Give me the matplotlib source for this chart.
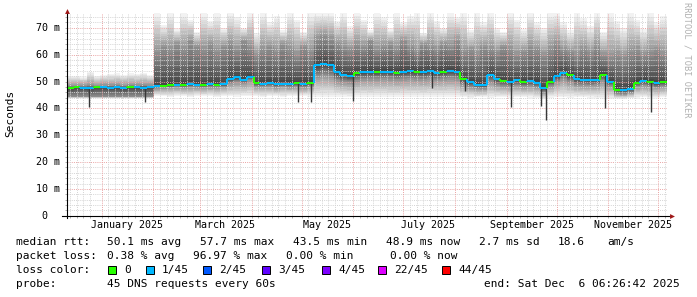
import datetime
import matplotlib
matplotlib.use('Agg')
import matplotlib.pyplot as plt
from matplotlib.collections import LineCollection
from matplotlib.patches import Rectangle
import numpy as np

W, H = 697, 297
start = datetime.datetime(2024, 12, 11, 6, 26, 42)   # 360 days before end
step_days = 4

# median rtt per 4-day step (ms)
median = [47.6, 47.8, 47.7, 47.5, 47.8, 47.9, 47.7, 47.8, 47.6, 47.9, 47.8, 47.7, 47.9,
          48.3, 48.5, 48.6, 48.8, 48.7, 48.9, 48.8, 48.7, 48.9, 48.8, 48.9,
          50.8, 51.5, 50.6, 51.8,
          49.3, 49.2, 49.4, 49.0, 49.2, 49.1, 49.3, 49.0, 49.5,
          56.0, 56.6, 56.2, 53.5,
          52.3, 52.0, 53.0, 53.4, 53.6, 53.5, 53.7, 53.5, 53.3, 53.6, 53.8, 53.5, 53.4, 53.9,
          53.2, 53.6, 54.0, 53.5,
          51.0, 49.8, 48.8, 48.6, 52.5,
          50.8, 50.2, 50.0, 50.4, 49.8, 50.1, 49.6, 47.5, 50.0,
          52.0, 53.2, 52.3, 50.8, 50.6, 50.5, 50.7, 52.5, 50.0,
          47.0, 46.8, 47.3, 49.6, 50.2, 49.8, 49.3, 49.8]

# smoke: lowest ping, lower quartile, upper quartile, highest ping (ms)
smoke_min = [43.8] * 13 + \
            [44.6, 44.5, 44.4, 44.6, 44.5, 44.4, 44.6, 44.5, 44.5, 44.4, 44.6, 44.5,
             44.4, 44.6, 44.5, 44.5, 44.4, 44.6, 44.5, 44.4, 44.5, 44.6, 44.5, 44.4] + \
            [44.3, 44.2, 44.4, 44.3] + \
            [44.3, 44.2, 44.4, 44.3, 44.2, 44.4, 44.3, 44.2, 44.3, 44.4, 44.2, 44.3,
             44.3, 44.2, 44.4, 44.3, 44.2, 44.3] + \
            [44.2, 44.0, 44.1, 44.2, 44.0, 44.2, 44.1, 44.0, 44.2, 44.1, 44.0, 43.8,
             43.5, 44.0, 44.2, 44.1, 44.0, 44.2, 44.1, 44.0, 43.8, 43.6, 43.5, 43.5,
             43.6, 43.8, 44.0, 44.1, 43.8, 44.0, 44.1]
smoke_q1 = [44.3] * 13 + \
           [47.5, 47.7, 47.8, 48.0, 47.9, 48.1, 48.0, 47.9, 48.1, 48.0, 48.1, 49.5,
            50.0, 49.5, 50.5, 48.3, 48.2, 48.4, 48.0, 48.2, 48.1, 48.3, 48.0, 48.4] + \
           [52.0, 52.5, 52.0, 50.5] + \
           [50.0, 49.8, 50.5, 51.0, 51.0, 51.0, 51.2, 51.0, 50.8, 51.0, 51.2, 51.0,
            50.8, 51.3, 50.7, 51.0, 51.4, 51.0] + \
           [49.0, 48.0, 47.5, 47.3, 50.0, 48.8, 48.5, 48.3, 48.6, 48.2, 48.4, 48.0,
            46.0, 48.5, 50.0, 51.0, 50.0, 48.8, 48.8, 48.7, 48.9, 50.5, 48.5, 45.5,
            45.3, 45.8, 48.2, 48.6, 48.3, 47.8, 48.3]
smoke_q3 = [48.3, 48.4, 48.3, 48.6, 48.4, 48.5, 48.5, 48.6, 48.4, 48.6, 48.5, 48.6, 48.5,
            61, 63, 62, 64, 62, 65, 63, 62, 64, 61, 63, 64,
            62, 65, 63, 60, 62, 63, 61, 64, 62, 60, 63, 61,
            66, 67, 66, 64,
            63, 62, 64, 63, 65, 62, 63, 64, 62, 65, 63, 61, 64, 63, 62, 64, 63, 65,
            61, 62, 60, 63, 62, 61, 63, 62, 60, 61, 63, 62, 60, 62, 64, 62,
            61, 60, 62, 61, 63, 60, 59, 60, 59, 61, 62, 60, 61, 62, 60]
smoke_max = [52.0, 52.2, 51.8, 53.5, 52.0, 52.5, 52.8, 53.0, 52.6, 53.0, 52.8, 53.2, 52.5,
             75.4, 71.0, 75.4, 69.5, 75.4, 73.0, 68.5, 75.4, 72.5, 75.4, 70.0,
             75.4, 74.0, 70.0, 75.4, 68.0, 75.4, 72.0, 74.5, 69.0, 75.4, 73.0, 68.5, 75.4,
             75.4, 75.4, 75.4, 72.5,
             75.4, 70.5, 75.4, 73.0, 69.0, 75.4, 74.0, 69.5, 75.4, 72.0, 74.5, 75.4,
             68.0, 75.4, 72.5, 70.0, 75.4, 74.0,
             75.4, 69.0, 75.4, 72.0, 75.4, 70.0, 68.5, 75.4, 73.0, 69.5, 75.4, 72.0,
             70.0, 75.4,
             75.4, 72.0, 69.0, 75.4, 73.5, 70.5, 75.4, 68.5, 75.4, 72.5, 70.0, 75.4,
             73.0, 69.5, 75.4, 72.0, 74.5]
# index into loss_colors for each step
loss = [0, 0, 1, 1, 0, 1, 1, 1, 1, 0, 1, 1, 1,
        1, 0, 0, 1, 0, 1, 1, 0, 1, 0, 1,
        1, 1, 1, 1, 0, 1, 1, 1, 1, 1, 0, 1, 0,
        1, 1, 1, 1,
        1, 1, 0, 1, 1, 0, 1, 1, 0, 1, 1, 0, 1, 1, 1, 0, 1, 1,
        0, 1, 1, 1, 1, 1, 0, 1, 1, 0, 1, 1, 1, 0, 1, 1,
        0, 1, 1, 1, 1, 0, 1, 0, 1, 1, 0, 1, 0, 1, 0]

# short drops (day since start, lowest ms)
spike_days = [13.2, 46.8, 138.6, 146.4, 171.6, 219.0, 238.8, 266.4, 284.4, 287.4, 322.8, 350.4]
spike_low = [40.4, 42.3, 42.5, 42.5, 42.8, 47.5, 46.5, 40.5, 41.0, 35.5, 40.0, 38.5]

loss_labels = ['0', '1/45', '2/45', '3/45', '4/45', '22/45', '44/45']
loss_colors = ['#26ff00', '#00b8ff', '#0059ff', '#5e00ff', '#7e00ff', '#dd00ff', '#ff0000']
loss_box_x = [108, 146, 203, 262, 322, 378, 442]

y_ticks = [0, 10, 20, 30, 40, 50, 60, 70]
y_tick_labels = ['0', '10 m', '20 m', '30 m', '40 m', '50 m', '60 m', '70 m']
month_labels = ['January 2025', 'March 2025', 'May 2025', 'July 2025',
                'September 2025', 'November 2025']
label_months = [1, 3, 5, 7, 9, 11]

rtt_parts = ['median rtt:', '50.1 ms avg', '57.7 ms max', '43.5 ms min',
             '48.9 ms now', '2.7 ms sd', '18.6', 'am/s']
rtt_x = [16, 107, 200, 293, 386, 479, 558, 607]
loss_parts = ['packet loss:', '0.38 % avg', '96.97 % max', '0.00 % min', '0.00 % now']
loss_x = [16, 107, 193, 286, 390]

mono = 'DejaVu Sans Mono'


def day_of(dt):
    return (dt - start).total_seconds() / 86400.0


def px(x, y):
    return x / W, 1 - y / H


fig = plt.figure(figsize=(W / 100, H / 100), dpi=100)
ax = fig.add_axes([67 / W, 1 - 215.8 / H, 600 / W, (215.8 - 13.3) / H])
ax.set_xlim(0, 360)
ax.set_ylim(0, 75.4)
for s in ax.spines.values():
    s.set_visible(False)

n = len(median)
edges = np.arange(n + 1) * step_days


def ext(a):
    a = np.asarray(a, dtype=float)
    return np.append(a, a[-1])


med = ext(median)
lo, q1, q3, hi = ext(smoke_min), ext(smoke_q1), ext(smoke_q3), ext(smoke_max)

# smoke: outer bands light, inner bands dark
K = 10
for j in range(K):
    t = 1 - j / K
    g = 0.55 + 0.40 * t
    ax.fill_between(edges, q1 - t * (q1 - lo), q3 + t * (hi - q3), step='post',
                    color=(g, g, g), lw=0, zorder=1)
for j in range(K):
    t = 1 - j / K
    g = 0.25 + 0.30 * t
    ax.fill_between(edges, med - t * (med - q1), med + t * (q3 - med), step='post',
                    color=(g, g, g), lw=0, zorder=1)

# grid (drawn over the smoke like rrdtool)
grid_kw = dict(lw=0.7, linestyle=(0, (1, 1.2)), zorder=2)
for v in np.arange(2, 75, 2):
    if v % 10:
        ax.axhline(v, color='#d4d4d4', **grid_kw)
for v in y_ticks[1:]:
    ax.axhline(v, color='#eaa4a4', **grid_kw)

month_starts = [day_of(datetime.datetime(2025, m, 1)) for m in range(1, 13)]
minor_days = []
for m in range(12, 25):
    y, mo = 2024 + (m - 1) // 12, (m - 1) % 12 + 1
    for d in (5, 9, 13, 17, 21, 25):
        minor_days.append(day_of(datetime.datetime(y, mo, d)))
minor_days = [d for d in minor_days if 0 < d < 360]
for d in minor_days:
    ax.axvline(d, color='#d4d4d4', **grid_kw)
for d in month_starts:
    ax.axvline(d, color='#eaa4a4', **grid_kw)

# drops
for d, low in zip(spike_days, spike_low):
    top = median[int(d // step_days)]
    ax.vlines(d, low, top, color='#383838', lw=1.0, zorder=3)

# median line, coloured by loss
segs, cols = [], []
for i in range(n):
    segs.append([(edges[i], median[i]), (edges[i + 1], median[i])])
    cols.append(loss_colors[loss[i]])
    if i > 0:
        segs.append([(edges[i], median[i - 1]), (edges[i], median[i])])
        cols.append(loss_colors[loss[i]])
ax.add_collection(LineCollection(segs, colors=cols, linewidths=1.5, zorder=4))

# axes with arrows
ax.plot([-3.2, 362.5], [0, 0], color='black', lw=0.8, clip_on=False, zorder=6)
ax.plot([0, 0], [-0.9, 76.0], color='black', lw=0.8, clip_on=False, zorder=6)
ax.plot(363.2, 0, marker='>', ms=3.5, color='#a01818', mec='none', clip_on=False, zorder=7)
ax.plot(0, 76.4, marker='^', ms=3.5, color='#a01818', mec='none', clip_on=False, zorder=7)

ax.set_xticks(month_starts + minor_days)
ax.set_yticks(list(np.arange(0, 76, 2)))
ax.tick_params(length=1.5, width=0.5, color='#909090', labelbottom=False, labelleft=False)

for v, lab in zip(y_ticks, y_tick_labels):
    xr = -0.0125 if lab.endswith('m') else -0.0325
    ax.text(xr, v, lab, transform=ax.get_yaxis_transform(), ha='right', va='center',
            fontsize=7.2, family=mono)
for m, lab in zip(label_months, month_labels):
    ax.text(day_of(datetime.datetime(2025, m, 1)) + 15, -0.043, lab,
            transform=ax.get_xaxis_transform(), ha='center', va='center',
            fontsize=7.2, family=mono)

fig.text(*px(10, 113), 'Seconds', rotation=90, ha='center', va='center',
         fontsize=8, family=mono)
fig.text(*px(687, 60), 'RRDTOOL / TOBI OETIKER', rotation=270, ha='center', va='center',
         fontsize=6.2, family=mono, color='#b0b0b0')

# legend
for s, x in zip(rtt_parts, rtt_x):
    fig.text(*px(x, 245), s, ha='left', va='baseline', fontsize=8, family=mono)
for s, x in zip(loss_parts, loss_x):
    fig.text(*px(x, 259), s, ha='left', va='baseline', fontsize=8, family=mono)
fig.text(*px(16, 273), 'loss color:', ha='left', va='baseline', fontsize=8, family=mono)
for lab, c, x in zip(loss_labels, loss_colors, loss_box_x):
    fig.add_artist(Rectangle(px(x, 273.5), 8 / W, 8 / H, transform=fig.transFigure,
                             facecolor=c, edgecolor='black', lw=0.7))
    fig.text(*px(x + 16, 273), lab, ha='left', va='baseline', fontsize=8, family=mono)
fig.text(*px(16, 287), 'probe:', ha='left', va='baseline', fontsize=8, family=mono)
fig.text(*px(107, 287), '45 DNS requests every 60s', ha='left', va='baseline',
         fontsize=8, family=mono)
fig.text(*px(680, 287), 'end: Sat Dec  6 06:26:42 2025', ha='right', va='baseline',
         fontsize=8, family=mono)

fig.savefig('out.png', dpi=100)
